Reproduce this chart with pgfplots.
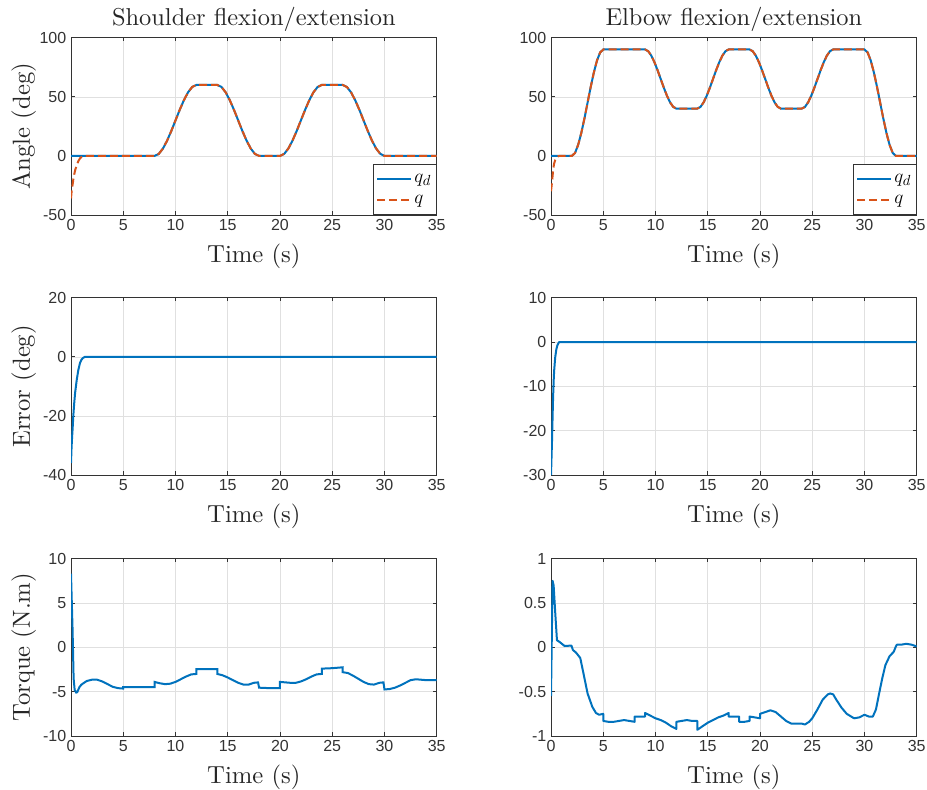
\documentclass[border=0pt]{standalone}
\usepackage{fontspec}
\setmainfont{lmroman10-regular}[Extension=.otf, ItalicFont=lmroman10-italic, BoldFont=lmroman10-bold]
\usepackage{pgfplots}
\pgfplotsset{compat=1.18}
\newfontfamily\tickfont{Liberation Sans}
\definecolor{mblue}{rgb}{0,0.447,0.741}
\definecolor{morange}{rgb}{0.85,0.325,0.098}

\pgfplotsset{
  matlab/.style={
    scale only axis, width=274.3pt, height=133pt,
    xmin=0, xmax=35, xtick={0,5,...,35},
    grid=major, grid style={black!12, line width=0.4pt},
    axis line style={black!80, line width=0.5pt},
    tick align=inside, tick pos=both, major tick length=2.7pt,
    tick style={black!80, line width=0.5pt},
    ticklabel style={font=\tickfont\fontsize{12}{14}\selectfont, text=black!80},
    /pgf/number format/assume math mode=true,
    label style={font=\fontsize{18.5}{22}\selectfont, text=black!85},
    xlabel={Time (s)},
    xlabel style={at={([yshift=-35.25pt]axis description cs:0.5,0)}, anchor=base},
    ylabel style={at={([xshift=-30.75pt]axis description cs:0,0.5)}, anchor=base},
    title style={at={([yshift=3pt]axis description cs:0.5,1)}, anchor=base, yshift=0pt,
      font=\fontsize{18.3}{22}\selectfont, text=black!85},
    every axis plot/.append style={line width=1.5pt},
  },
  mleg/.style={
    legend style={at={(1,0)}, anchor=south east, draw=black!80, line width=0.5pt,
      font=\fontsize{15}{17}\selectfont, inner xsep=2pt, inner ysep=5pt,
      row sep=4pt},
    legend cell align=left,
    legend image code/.code={\draw[##1] (0pt,0pt) -- (25pt,0pt);},
  },
}

\begin{document}
\begin{tikzpicture}
\path[use as bounding box] (0,0) rectangle (695.25pt,-591.75pt);

% ---------- row 1: angles
\begin{axis}[matlab, mleg, at={(53.25pt,-161.25pt)}, anchor=south west,
  ymin=-50, ymax=100, ytick={-50,0,50,100},
  title={Shoulder flexion/extension}, ylabel={Angle (deg)}]
\addplot[mblue] coordinates {
 (0,0)(8,0)(8.4,1.68)(8.8,6.24)(9.2,12.96)(9.6,21.12)(10,30)(10.4,38.88)(10.8,47.04)(11.2,53.76)(11.6,58.32)(12,60)
 (14,60)(14.4,58.32)(14.8,53.76)(15.2,47.04)(15.6,38.88)(16,30)(16.4,21.12)(16.8,12.96)(17.2,6.24)(17.6,1.68)(18,0)
 (20,0)(20.4,1.68)(20.8,6.24)(21.2,12.96)(21.6,21.12)(22,30)(22.4,38.88)(22.8,47.04)(23.2,53.76)(23.6,58.32)(24,60)
 (26,60)(26.4,58.32)(26.8,53.76)(27.2,47.04)(27.6,38.88)(28,30)(28.4,21.12)(28.8,12.96)(29.2,6.24)(29.6,1.68)(30,0)
 (35,0)};
\addlegendentry{$q_d$}
\addplot[morange, dash pattern=on 6pt off 3pt] coordinates {
 (0,-36)(0.05,-31)(0.1,-27.5)(0.16,-24)(0.22,-20)(0.3,-16)(0.4,-12)(0.55,-7.8)(0.7,-4.5)(0.86,-2.1)(1,-1)(1.15,-0.4)(1.34,0)
 (8,0)(8.4,1.68)(8.8,6.24)(9.2,12.96)(9.6,21.12)(10,30)(10.4,38.88)(10.8,47.04)(11.2,53.76)(11.6,58.32)(12,60)
 (14,60)(14.4,58.32)(14.8,53.76)(15.2,47.04)(15.6,38.88)(16,30)(16.4,21.12)(16.8,12.96)(17.2,6.24)(17.6,1.68)(18,0)
 (20,0)(20.4,1.68)(20.8,6.24)(21.2,12.96)(21.6,21.12)(22,30)(22.4,38.88)(22.8,47.04)(23.2,53.76)(23.6,58.32)(24,60)
 (26,60)(26.4,58.32)(26.8,53.76)(27.2,47.04)(27.6,38.88)(28,30)(28.4,21.12)(28.8,12.96)(29.2,6.24)(29.6,1.68)(30,0)
 (35,0)};
\addlegendentry{$q$}
\end{axis}

\begin{axis}[matlab, mleg, at={(413.25pt,-161.25pt)}, anchor=south west,
  ymin=-50, ymax=100, ytick={-50,0,50,100},
  title={Elbow flexion/extension}]
\addplot[mblue] coordinates {
 (0,0)(2,0)(2.3,2.52)(2.6,9.36)(2.9,19.44)(3.2,31.68)(3.5,45)(3.8,58.32)(4.1,70.56)(4.4,80.64)(4.7,87.48)(5,90)
 (9,90)(9.3,88.6)(9.6,84.8)(9.9,79.2)(10.2,72.4)(10.5,65)(10.8,57.6)(11.1,50.8)(11.4,45.2)(11.7,41.4)(12,40)
 (14,40)(14.3,41.4)(14.6,45.2)(14.9,50.8)(15.2,57.6)(15.5,65)(15.8,72.4)(16.1,79.2)(16.4,84.8)(16.7,88.6)(17,90)
 (19,90)(19.3,88.6)(19.6,84.8)(19.9,79.2)(20.2,72.4)(20.5,65)(20.8,57.6)(21.1,50.8)(21.4,45.2)(21.7,41.4)(22,40)
 (24,40)(24.3,41.4)(24.6,45.2)(24.9,50.8)(25.2,57.6)(25.5,65)(25.8,72.4)(26.1,79.2)(26.4,84.8)(26.7,88.6)(27,90)
 (30,90)(30.3,87.48)(30.6,80.64)(30.9,70.56)(31.2,58.32)(31.5,45)(31.8,31.68)(32.1,19.44)(32.4,9.36)(32.7,2.52)(33,0)
 (35,0)};
\addlegendentry{$q_d$}
\addplot[morange, dash pattern=on 6pt off 3pt] coordinates {
 (0,-30)(0.05,-26)(0.1,-22)(0.15,-17)(0.2,-12.5)(0.25,-9)(0.3,-6.5)(0.4,-3.5)(0.5,-1.8)(0.6,-0.8)(0.7,-0.3)(0.8,0)
 (2,0)(2.3,2.52)(2.6,9.36)(2.9,19.44)(3.2,31.68)(3.5,45)(3.8,58.32)(4.1,70.56)(4.4,80.64)(4.7,87.48)(5,90)
 (9,90)(9.3,88.6)(9.6,84.8)(9.9,79.2)(10.2,72.4)(10.5,65)(10.8,57.6)(11.1,50.8)(11.4,45.2)(11.7,41.4)(12,40)
 (14,40)(14.3,41.4)(14.6,45.2)(14.9,50.8)(15.2,57.6)(15.5,65)(15.8,72.4)(16.1,79.2)(16.4,84.8)(16.7,88.6)(17,90)
 (19,90)(19.3,88.6)(19.6,84.8)(19.9,79.2)(20.2,72.4)(20.5,65)(20.8,57.6)(21.1,50.8)(21.4,45.2)(21.7,41.4)(22,40)
 (24,40)(24.3,41.4)(24.6,45.2)(24.9,50.8)(25.2,57.6)(25.5,65)(25.8,72.4)(26.1,79.2)(26.4,84.8)(26.7,88.6)(27,90)
 (30,90)(30.3,87.48)(30.6,80.64)(30.9,70.56)(31.2,58.32)(31.5,45)(31.8,31.68)(32.1,19.44)(32.4,9.36)(32.7,2.52)(33,0)
 (35,0)};
\addlegendentry{$q$}
\end{axis}

% ---------- row 2: errors
\begin{axis}[matlab, at={(53.25pt,-356.25pt)}, anchor=south west,
  ymin=-40, ymax=20, ytick={-40,-20,0,20}, ylabel={Error (deg)}]
\addplot[mblue] coordinates {
 (0,-36)(0.05,-31)(0.1,-27.5)(0.16,-24)(0.22,-20)(0.3,-16)(0.4,-12)(0.55,-7.8)(0.7,-4.5)(0.86,-2.1)(1,-1)(1.15,-0.4)(1.34,0)(35,0)};
\end{axis}

\begin{axis}[matlab, at={(413.25pt,-356.25pt)}, anchor=south west,
  ymin=-30, ymax=10, ytick={-30,-20,-10,0,10}]
\addplot[mblue] coordinates {
 (0,-30)(0.05,-26)(0.1,-22)(0.15,-17)(0.2,-12.5)(0.25,-9)(0.3,-6.5)(0.4,-3.5)(0.5,-1.8)(0.6,-0.8)(0.7,-0.3)(0.8,0)(35,0)};
\end{axis}

% ---------- row 3: torques
\begin{axis}[matlab, at={(53.25pt,-552pt)}, anchor=south west,
  ymin=-10, ymax=10, ytick={-10,-5,0,5,10}, ylabel={Torque (N.m)}]
\addplot[mblue] coordinates {
 (0,8.3)(0.15,2)(0.25,-3.5)(0.35,-4.8)(0.5,-5.1)(0.6,-5.05)(0.8,-4.5)(1,-4.2)(1.5,-3.8)(2,-3.65)(2.5,-3.65)(3,-3.85)
 (3.5,-4.15)(4,-4.45)(4.5,-4.6)(5,-4.65)(5,-4.5)(6,-4.5)(7,-4.5)(8,-4.5)(8,-3.9)(8.5,-4.05)(9,-4.15)(9.5,-4.1)
 (10,-3.9)(10.5,-3.6)(11,-3.3)(11.5,-3.05)(12,-3.0)(12,-2.45)(13,-2.45)(14,-2.45)(14,-3.0)(14.5,-3.15)(15,-3.4)
 (15.5,-3.7)(16,-4.0)(16.5,-4.2)(17,-4.2)(17.5,-4.0)(17.9,-3.95)(18,-4.55)(19,-4.6)(20,-4.6)(20,-3.9)(20.5,-3.95)
 (21,-4.0)(21.5,-4.0)(22,-3.85)(22.5,-3.6)(23,-3.3)(23.5,-3.05)(24,-3.0)(24,-2.4)(25,-2.35)(26,-2.25)(26,-2.8)
 (26.5,-2.9)(27,-3.2)(27.5,-3.55)(28,-3.9)(28.5,-4.15)(29,-4.2)(29.5,-4.0)(29.9,-3.95)(30,-4.75)(30.5,-4.7)
 (31,-4.55)(31.5,-4.3)(32,-4.0)(32.5,-3.7)(33,-3.6)(34,-3.7)(35,-3.7)};
\end{axis}

\begin{axis}[matlab, at={(413.25pt,-552pt)}, anchor=south west,
  ymin=-1, ymax=1, ytick={-1,-0.5,0,0.5,1}]
\addplot[mblue, line join=round] coordinates {
 (0,-0.55)(0.15,0.75)(0.25,0.7)(0.4,0.4)(0.57,0.08)(0.83,0.06)(1.3,0.015)(1.95,0.02)(2.1,-0.03)(2.4,-0.06)(2.8,-0.12)
 (3.1,-0.29)(3.5,-0.52)(3.95,-0.67)(4.3,-0.74)(4.6,-0.76)(5,-0.75)(5,-0.83)(5.5,-0.84)(6,-0.84)(6.5,-0.83)(7,-0.82)
 (7.5,-0.83)(8,-0.84)(8,-0.78)(8.5,-0.78)(9,-0.78)(9,-0.74)(9.5,-0.77)(10,-0.8)(10.5,-0.82)(11,-0.85)(11.5,-0.89)
 (12,-0.92)(12,-0.84)(12.5,-0.83)(13,-0.82)(13.5,-0.83)(14,-0.83)(14,-0.93)(14.5,-0.89)(15,-0.85)(15.5,-0.82)
 (16,-0.79)(16.5,-0.77)(17,-0.74)(17,-0.78)(17.5,-0.78)(18,-0.78)(18,-0.84)(18.5,-0.84)(19,-0.83)(19,-0.78)
 (19.5,-0.79)(20,-0.8)(20,-0.75)(20.5,-0.73)(21,-0.71)(21.5,-0.73)(22,-0.78)(22.5,-0.83)(23,-0.86)(23.5,-0.86)
 (24,-0.86)(24.3,-0.87)(24.7,-0.84)(25,-0.8)(25.5,-0.7)(26,-0.59)(26.5,-0.53)(26.7,-0.52)(27,-0.53)(27.3,-0.59)
 (27.8,-0.68)(28.3,-0.75)(29,-0.8)(29.5,-0.79)(30,-0.76)(30.4,-0.78)(30.8,-0.78)(31.1,-0.7)(31.4,-0.52)(31.7,-0.35)
 (32,-0.2)(32.4,-0.1)(32.8,-0.05)(33,0.01)(33.1,0.03)(33.5,0.03)(34,0.04)(34.5,0.03)(35,0.01)};
\end{axis}
\end{tikzpicture}
\end{document}
